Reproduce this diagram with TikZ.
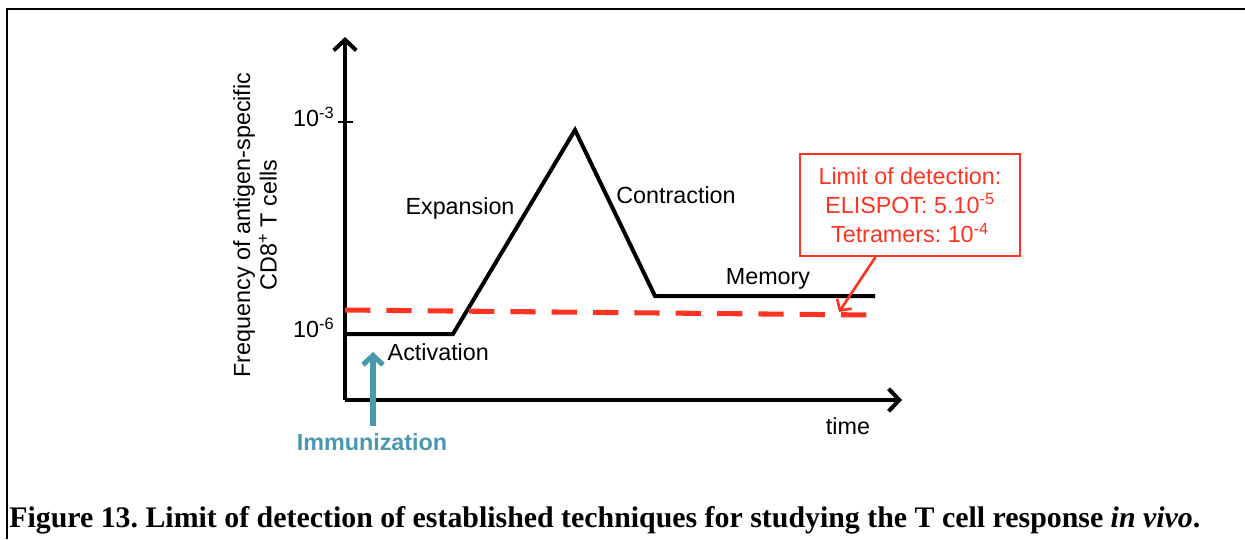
\documentclass[tikz,border=0pt]{standalone}
\usepackage{fontspec}
\setmainfont{Liberation Sans}
\newfontfamily\capfont{Liberation Serif}
\usetikzlibrary{arrows.meta}
\definecolor{limred}{RGB}{255,51,34}
\definecolor{immteal}{RGB}{74,152,174}
\tikzset{
  lbl/.style={font=\fontsize{17.5}{21}\selectfont},
  axis/.style={line width=3pt, -{Straight Barb[length=8pt,width=17pt]}},
}
\frenchspacing
\begin{document}
\begin{tikzpicture}[x=0.75pt,y=-0.75pt]
  \useasboundingbox (0,0) rectangle (1245,539);
  % frame
  \draw[line width=2.2pt] (7,539) -- (7,9) -- (1245,9);
  % axes
  \coordinate (O) at (345,400);
  \coordinate (ytop) at (345,37);
  \coordinate (xend) at (902,400);
  \draw[axis] (O) -- (ytop);
  \draw[axis] (O) -- (xend);
  \draw[line width=2.2pt] (338,122) -- (353,122);
  \node[lbl, anchor=east] (e3) at (339,117) {10\textsuperscript{-3}};
  \node[lbl, anchor=east] (e6) at (339,328) {10\textsuperscript{-6}};
  \node[lbl, rotate=90, align=center] (ylab) at (255,225)
    {Frequency of antigen-specific\\[-1pt] CD8\textsuperscript{+} T cells};
  \node[lbl] (time) at (848,426) {time};
  % response
  \coordinate (a) at (345,334);
  \coordinate (b) at (453,334);
  \coordinate (c) at (575,130);
  \coordinate (d) at (655,296);
  \coordinate (e) at (875,296);
  \draw[line width=3pt, line join=miter] (a) -- (b) -- (c) -- (d) -- (e);
  \node[lbl, anchor=west] (act) at (383,352) {Activation};
  \node[lbl] (exp) at (460,208) {Expansion};
  \node[lbl] (con) at (676,195) {Contraction};
  \node[lbl] (mem) at (768,279) {Memory};
  % detection limit
  \coordinate (l1) at (345,310);
  \coordinate (l2) at (870,315);
  \draw[limred, line width=3.8pt, dash pattern=on 19pt off 12pt] (l1) -- (l2);
  \node[lbl, draw=limred, line width=1.5pt, text=limred, align=center,
        minimum width=165pt, minimum height=76.5pt, inner sep=2pt] (lim) at (910,205)
    {Limit of detection:\\[1pt] ELISPOT: 5.10\textsuperscript{-5}\\[1pt] Tetramers: 10\textsuperscript{-4}};
  \coordinate (tip) at (839,312);
  \draw[limred, line width=2pt, -{Straight Barb[length=6pt,width=13pt]}] (lim) -- (tip);
  % immunization
  \coordinate (i1) at (373,426);
  \coordinate (i2) at (373,352);
  \draw[immteal, line width=3.8pt, -{Straight Barb[length=7pt,width=15pt]}] (i1) -- (i2);
  \node[lbl, text=immteal, font=\fontsize{17.5}{21}\selectfont\bfseries] (imm) at (372,442) {Immunization};
  % caption
  \node[anchor=base west, inner sep=0pt, font=\capfont\fontsize{22.4}{26}\selectfont\bfseries] (cap) at (9,527)
    {Figure 13. Limit of detection of established techniques for studying the T cell response \textit{in vivo}.};
\end{tikzpicture}
\end{document}
